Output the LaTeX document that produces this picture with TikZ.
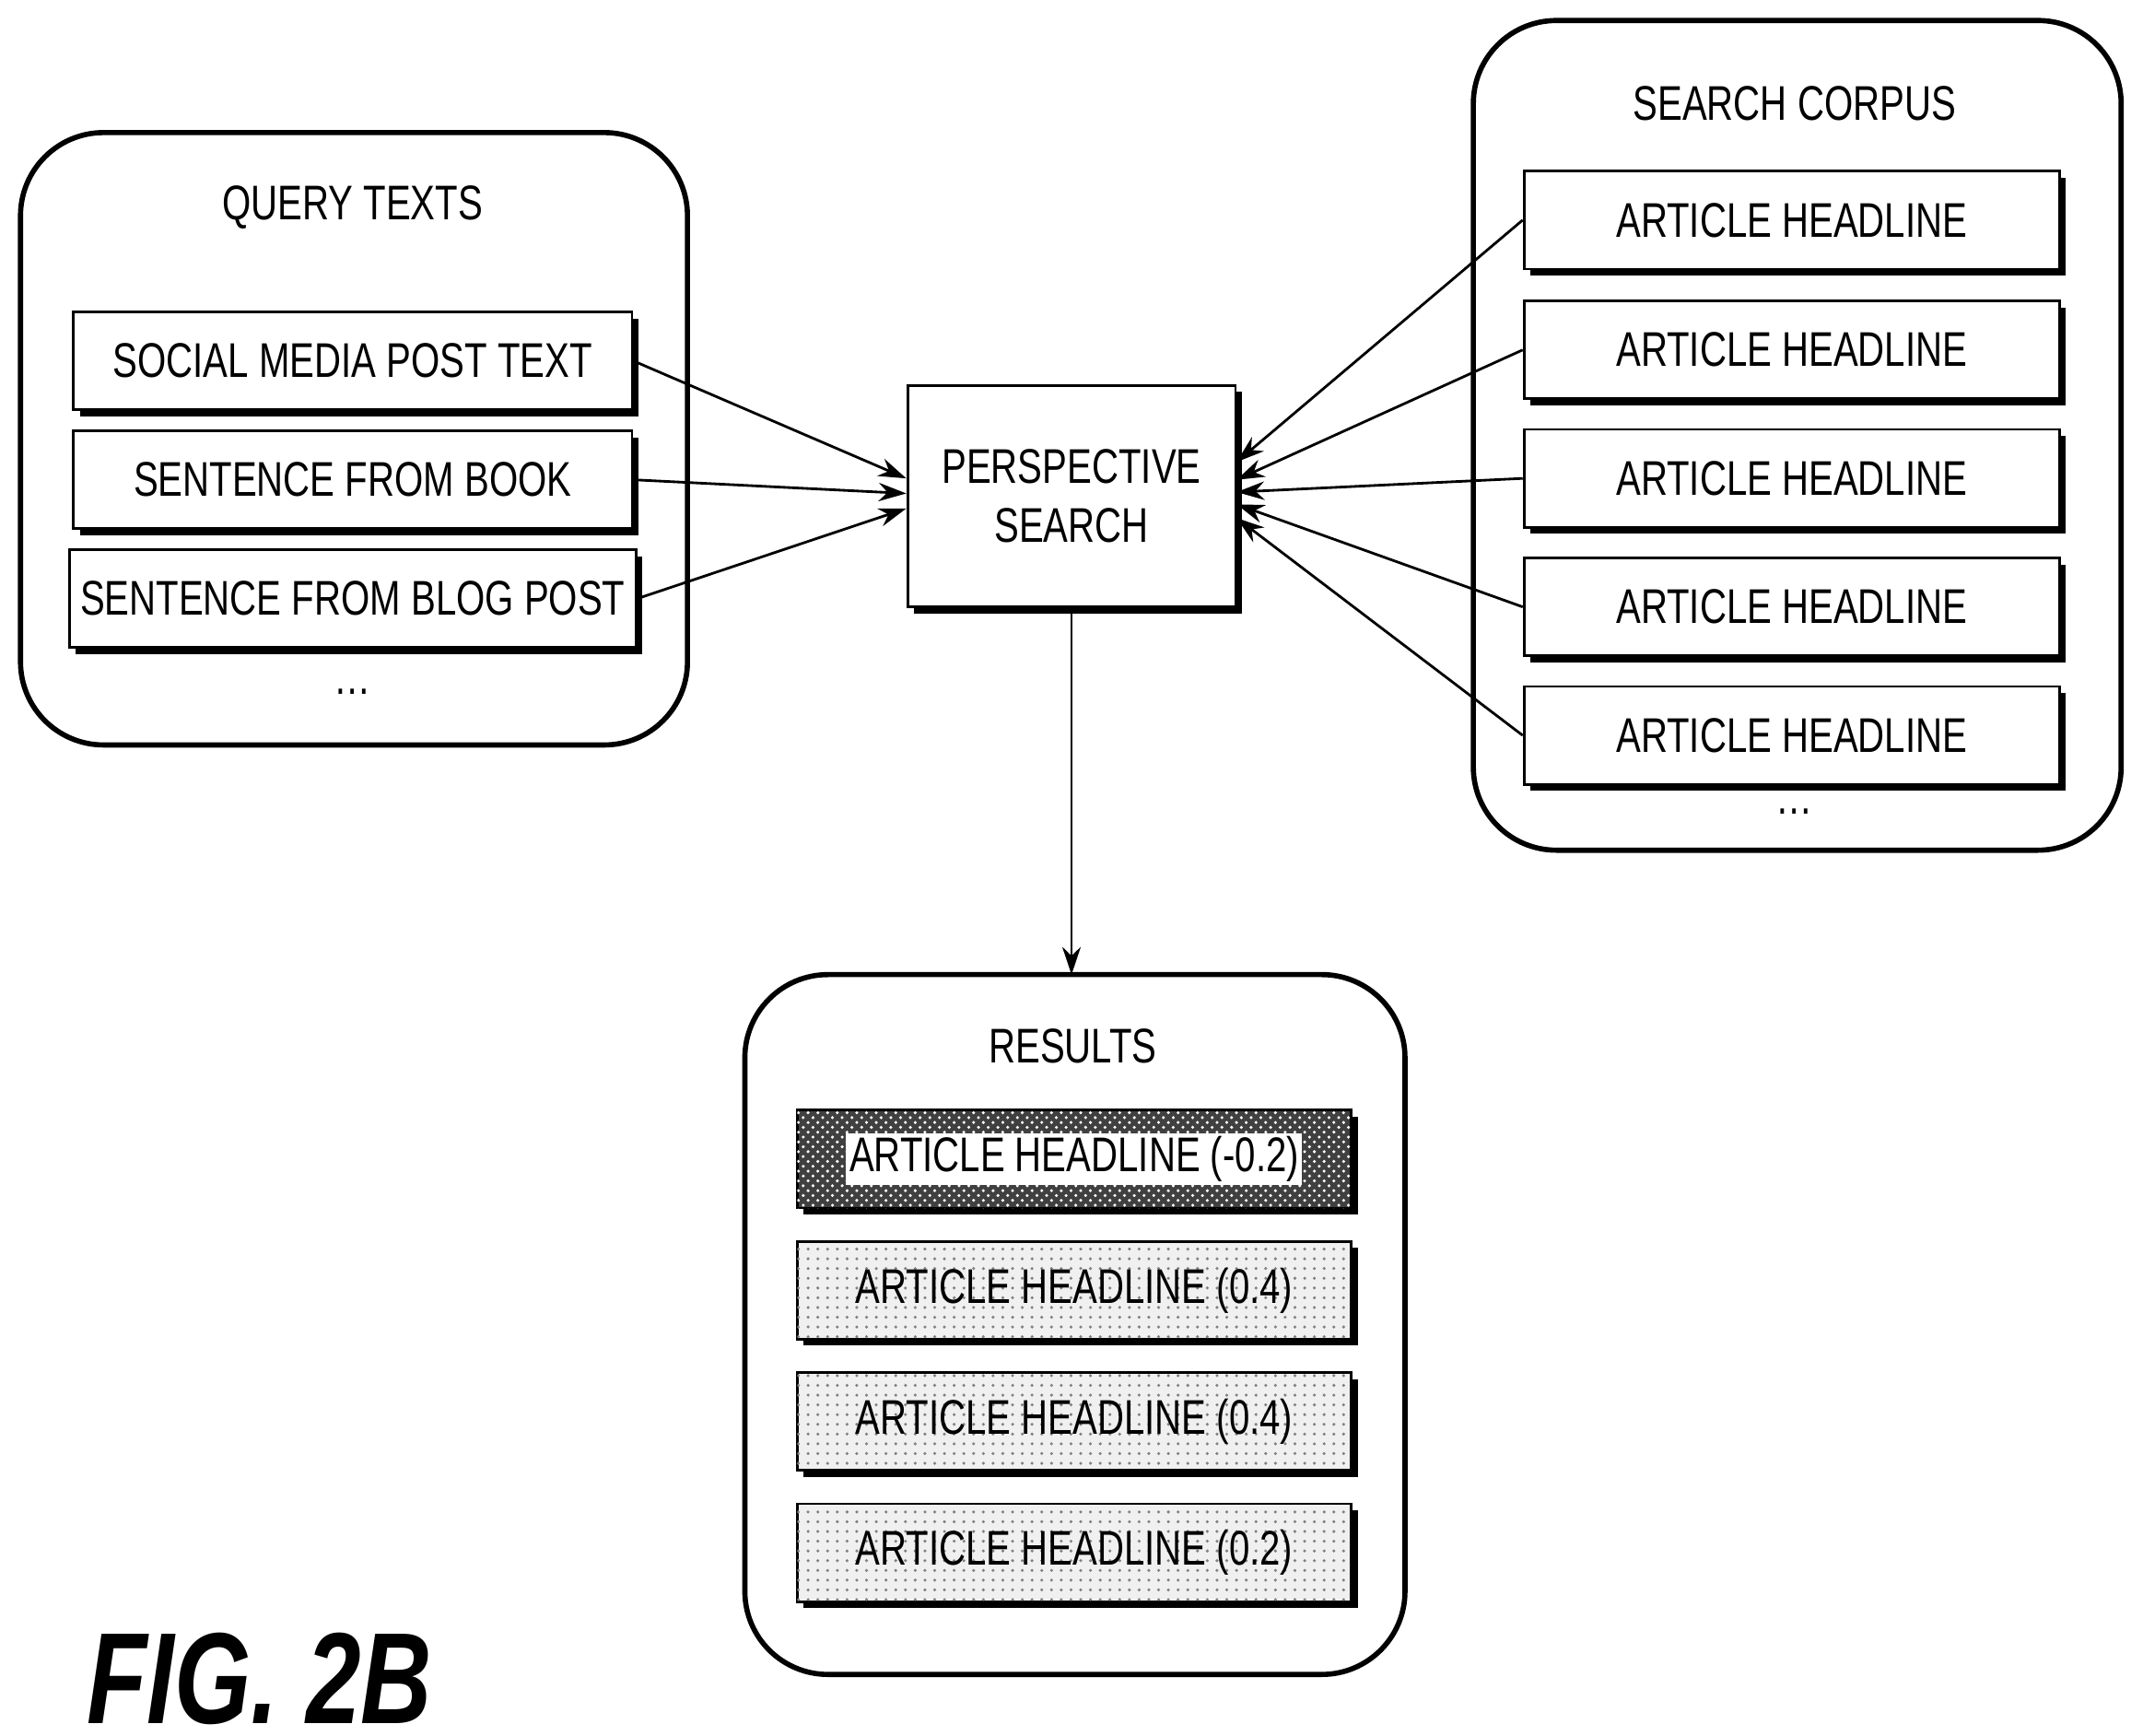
\documentclass[tikz,border=0pt]{standalone}
\usepackage{fontspec}
\setmainfont{Liberation Sans}[FakeStretch=0.76]
\usetikzlibrary{arrows.meta, positioning, calc, shadows, patterns}
\begin{document}
\begin{tikzpicture}[
    x=0.0148cm, y=-0.0148cm,
    group/.style={draw, line width=1.6pt, rounded corners=0.9cm},
    item/.style={draw, thick, fill=white, minimum width=6.05cm, minimum height=1.06cm, font=\fontsize{15}{18}\selectfont,
        drop shadow={shadow xshift=0.07cm, shadow yshift=-0.07cm, fill=black, opacity=1}},
    result/.style={item, minimum width=6.0cm, fill=gray!12, postaction={pattern=dots, pattern color=gray}},
    title/.style={font=\fontsize{15}{18}\selectfont},
    arrow/.style={-{Stealth[length=3mm, width=2mm]}, thick}
]
\useasboundingbox (0,0) rectangle (1568,1270);

% Query texts
\draw[group] (15,97) rectangle (503,545);
\node[title] (qt) at (258,152) {QUERY TEXTS};
\node[item] (q1) at (258,264) {SOCIAL MEDIA POST TEXT};
\node[item] (q2) at (258,351) {SENTENCE FROM BOOK};
\node[item] (q3) at (258,438) {SENTENCE FROM BLOG POST};
\node[title] (qd) at (258,506) {\dots};

% Perspective search
\node[item, minimum width=3.55cm, minimum height=2.4cm, align=center] (ps) at (784,363) {PERSPECTIVE\\SEARCH};

% Search corpus
\draw[group] (1078,15) rectangle (1552,622);
\node[title] (sc) at (1313,76) {SEARCH CORPUS};
\foreach \i/\y in {1/161, 2/256, 3/350, 4/444, 5/538}
    \node[item, minimum width=5.8cm] (c\i) at (1311,\y) {ARTICLE HEADLINE};
\node[title] (cd) at (1313,594) {\dots};

% Results
\draw[group] (545,713) rectangle (1028,1225);
\node[title] (rt) at (785,765) {RESULTS};
\node[item, minimum width=6.0cm, fill=black!75, postaction={pattern=crosshatch dots, pattern color=white}] (r1) at (786,848) {};
\node[title, fill=white, inner sep=1pt] (r1t) at (r1) {ARTICLE HEADLINE (-0.2)};
\node[result] (r2) at (786,944) {ARTICLE HEADLINE (0.4)};
\node[result] (r3) at (786,1040) {ARTICLE HEADLINE (0.4)};
\node[result] (r4) at (786,1136) {ARTICLE HEADLINE (0.2)};

% Arrows
\draw[arrow] (q1.east) -- ($(ps.west)+(0,-13)$);
\draw[arrow] (q2.east) -- ($(ps.west)+(0,-2)$);
\draw[arrow] (q3.east) -- ($(ps.west)+(0,9)$);
\draw[arrow] (c1.west) -- ($(ps.east)+(0,-25)$);
\draw[arrow] (c2.west) -- ($(ps.east)+(0,-12)$);
\draw[arrow] (c3.west) -- ($(ps.east)+(0,-3)$);
\draw[arrow] (c4.west) -- ($(ps.east)+(0,6)$);
\draw[arrow] (c5.west) -- ($(ps.east)+(0,16)$);
\draw[arrow] (ps.south) -- (ps.south |- 713,713);

% Figure label
\node[font=\fontsize{40}{46}\selectfont\bfseries\itshape] (fig) at (190,1228) {FIG. 2B};
\end{tikzpicture}
\end{document}
